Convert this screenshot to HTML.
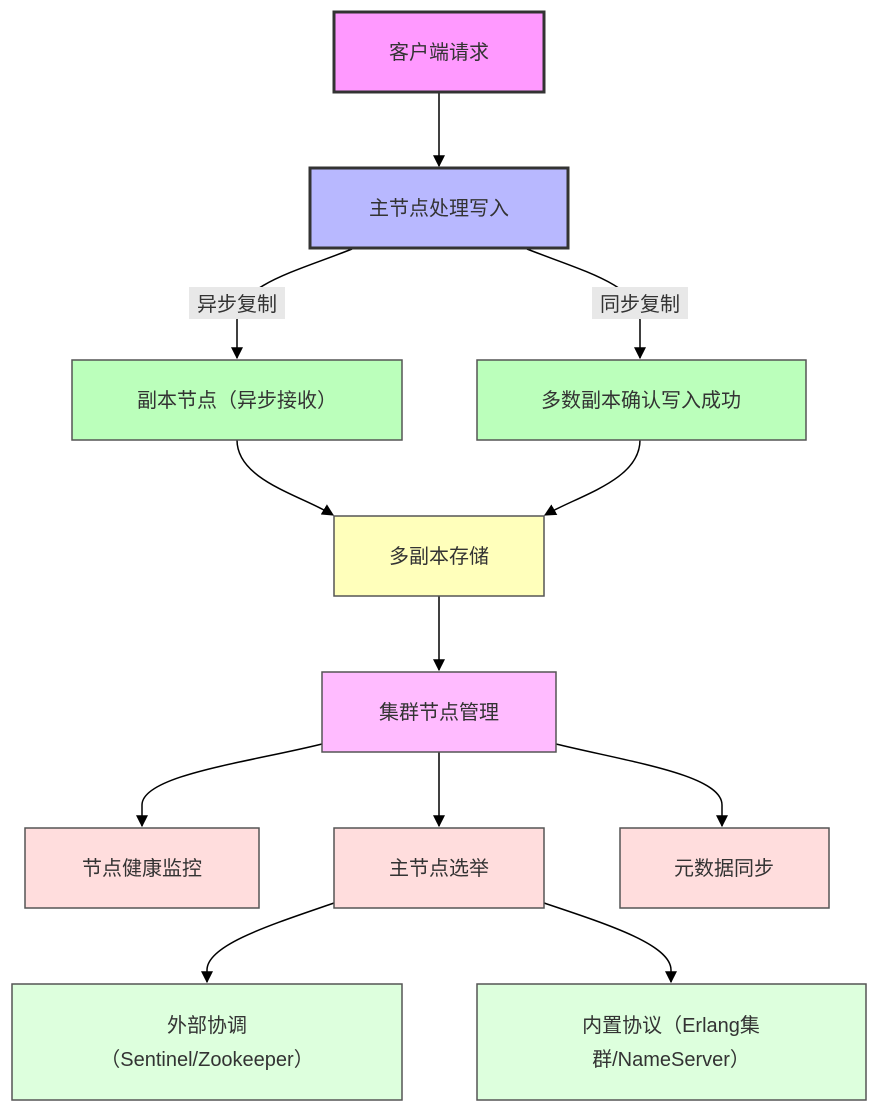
<!DOCTYPE html>
<html><head><meta charset="utf-8"><style>
html,body{margin:0;padding:0;background:#fff;}
svg text{font-family:"Liberation Sans","Noto Sans CJK SC",sans-serif;font-size:20px;fill:#333;}
</style></head><body>
<svg width="879" height="1113" viewBox="0 0 879 1113" xmlns="http://www.w3.org/2000/svg">
<defs><marker id="a" viewBox="0 0 10 10" refX="9" refY="5" markerWidth="8" markerHeight="8" orient="auto"><path d="M0,0L10,5L0,10z" fill="#000"/></marker></defs>
<g fill="none" stroke="#000" stroke-width="1.5" marker-end="url(#a)">
<path d="M439,92V166"/>
<path d="M352,249C300,270 237,285 237,320V358"/>
<path d="M527,249C580,270 640,285 640,320V358"/>
<path d="M237,440C237,480 300,495 333,515"/>
<path d="M640,440C640,480 580,495 545,515"/>
<path d="M439,596V670"/>
<path d="M322,744C250,762 142,775 142,805V826"/>
<path d="M439,752V826"/>
<path d="M556,744C630,762 722,775 722,805V826"/>
<path d="M334,903C270,925 207,945 207,970V982"/>
<path d="M544,903C610,925 671,945 671,970V982"/>
</g>
<rect x="189" y="287" width="96" height="32" fill="#e8e8e8"/>
<rect x="592" y="287" width="96" height="32" fill="#e8e8e8"/>
<text x="237" y="311" text-anchor="middle">异步复制</text>
<text x="640" y="311" text-anchor="middle">同步复制</text>
<g stroke="#333" stroke-width="3">
<rect x="334" y="12" width="210" height="80" fill="#ff99ff"/>
<rect x="310" y="168" width="258" height="80" fill="#b8b8ff"/>
</g>
<g stroke="#555" stroke-width="1.5">
<rect x="72" y="360" width="330" height="80" fill="#bbffbb"/>
<rect x="477" y="360" width="329" height="80" fill="#bbffbb"/>
<rect x="334" y="516" width="210" height="80" fill="#ffffbb"/>
<rect x="322" y="672" width="234" height="80" fill="#ffbbff"/>
<rect x="25" y="828" width="234" height="80" fill="#ffdddd"/>
<rect x="334" y="828" width="210" height="80" fill="#ffdddd"/>
<rect x="620" y="828" width="209" height="80" fill="#ffdddd"/>
<rect x="12" y="984" width="390" height="116" fill="#ddffdd"/>
<rect x="477" y="984" width="389" height="116" fill="#ddffdd"/>
</g>
<g text-anchor="middle">
<text x="439" y="59">客户端请求</text>
<text x="439" y="215">主节点处理写入</text>
<text x="237" y="407">副本节点（异步接收）</text>
<text x="641" y="407">多数副本确认写入成功</text>
<text x="439" y="563">多副本存储</text>
<text x="439" y="719">集群节点管理</text>
<text x="142" y="875">节点健康监控</text>
<text x="439" y="875">主节点选举</text>
<text x="724" y="875">元数据同步</text>
<text x="207" y="1032">外部协调</text>
<text x="207" y="1066">（Sentinel/Zookeeper）</text>
<text x="671" y="1032">内置协议（Erlang集</text>
<text x="671" y="1066">群/NameServer）</text>
</g>
</svg>
</body></html>
